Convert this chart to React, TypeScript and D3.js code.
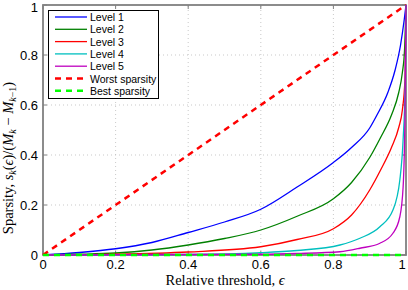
import React from "react";
import * as d3 from "d3";

const levelNames = ["Level 1", "Level 2", "Level 3", "Level 4", "Level 5"];
const levelColors = ["#0000ff", "#008000", "#ff0000", "#00bfbf", "#bf00bf"];

const level1: [number, number][] = [
  [0, 0], [0.1, 0.01], [0.2, 0.025], [0.3, 0.05], [0.4, 0.09], [0.5, 0.132], [0.6, 0.183],
  [0.7, 0.272], [0.8, 0.37], [0.85, 0.43], [0.9, 0.508], [0.92, 0.56], [0.95, 0.65],
  [0.97, 0.74], [0.985, 0.84], [0.995, 0.94], [1, 1],
];
const level2: [number, number][] = [
  [0, 0], [0.1, 0.003], [0.2, 0.008], [0.3, 0.02], [0.4, 0.04], [0.5, 0.066], [0.6, 0.1],
  [0.7, 0.155], [0.8, 0.225], [0.85, 0.29], [0.9, 0.39], [0.93, 0.47], [0.96, 0.56],
  [0.98, 0.65], [0.99, 0.73], [0.996, 0.82], [1, 1],
];
const level3: [number, number][] = [
  [0, 0], [0.2, 0.003], [0.4, 0.012], [0.6, 0.033], [0.7, 0.062], [0.8, 0.105],
  [0.85, 0.16], [0.9, 0.26], [0.93, 0.34], [0.96, 0.43], [0.98, 0.51], [0.99, 0.58],
  [0.997, 0.7], [1, 1],
];
const level4: [number, number][] = [
  [0, 0], [0.4, 0.002], [0.6, 0.009], [0.7, 0.018], [0.818, 0.04], [0.873, 0.067],
  [0.928, 0.113], [0.964, 0.18], [0.983, 0.3], [0.992, 0.46], [0.998, 0.7], [1, 1],
];
const level5: [number, number][] = [
  [0, 0], [0.6, 0.003], [0.7, 0.006], [0.818, 0.013], [0.873, 0.027], [0.928, 0.047],
  [0.964, 0.087], [0.983, 0.153], [0.992, 0.27], [0.997, 0.54], [1, 1],
];
const levels = [level1, level2, level3, level4, level5];

const worst: [number, number][] = [[0, 0], [1, 1]];
const best: [number, number][] = [[0, 0], [1, 0]];

const xTicks = [0, 0.2, 0.4, 0.6, 0.8, 1];
const yTicks = [0, 0.2, 0.4, 0.6, 0.8, 1];
const xTickLabels = ["0", "0.2", "0.4", "0.6", "0.8", "1"];
const yTickLabels = ["0", "0.2", "0.4", "0.6", "0.8", "1"];

export default function App() {
  const W = 408, H = 290;
  const x = d3.scaleLinear().domain([0, 1]).range([43, 406]);
  const y = d3.scaleLinear().domain([0, 1]).range([255, 5]);
  const line = d3.line<[number, number]>().x(d => x(d[0])).y(d => y(d[1])).curve(d3.curveMonotoneX);
  const straight = d3.line<[number, number]>().x(d => x(d[0])).y(d => y(d[1]));
  const axisColor = "#808080";
  const tickFont = "Liberation Sans, Arial, sans-serif";
  const serif = "Liberation Serif, Times New Roman, serif";

  const legendItems = [
    ...levelNames.map((n, i) => ({ name: n, color: levelColors[i], dash: undefined as string | undefined, w: 1.3 })),
    { name: "Worst sparsity", color: "#ff0000", dash: "6,5", w: 2.5 },
    { name: "Best sparsity", color: "#00ff00", dash: "6,5", w: 2.5 },
  ];

  return (
    <svg width={W} height={H} style={{ position: "absolute", left: 0, top: 0, background: "#fff" }}>
      <rect x={0} y={0} width={W} height={H} fill="#fff" />
      {/* grid */}
      {xTicks.slice(1, -1).map(t => (
        <line key={"gx" + t} x1={x(t)} x2={x(t)} y1={y(0)} y2={y(1)} stroke="#bbb" strokeWidth={0.8} strokeDasharray="1,3" />
      ))}
      {yTicks.slice(1, -1).map(t => (
        <line key={"gy" + t} x1={x(0)} x2={x(1)} y1={y(t)} y2={y(t)} stroke="#bbb" strokeWidth={0.8} strokeDasharray="1,3" />
      ))}
      {/* ticks */}
      {xTicks.map(t => (
        <g key={"tx" + t}>
          <line x1={x(t)} x2={x(t)} y1={y(0)} y2={y(0) - 4} stroke={axisColor} strokeWidth={1} />
          <line x1={x(t)} x2={x(t)} y1={y(1)} y2={y(1) + 4} stroke={axisColor} strokeWidth={1} />
        </g>
      ))}
      {yTicks.map(t => (
        <g key={"ty" + t}>
          <line x1={x(0)} x2={x(0) + 4} y1={y(t)} y2={y(t)} stroke={axisColor} strokeWidth={1} />
          <line x1={x(1)} x2={x(1) - 4} y1={y(t)} y2={y(t)} stroke={axisColor} strokeWidth={1} />
        </g>
      ))}
      {/* axes box */}
      <rect x={x(0)} y={y(1)} width={x(1) - x(0)} height={y(0) - y(1)} fill="none" stroke={axisColor} strokeWidth={1.8} />
      {/* worst */}
      <path d={straight(worst) || ""} fill="none" stroke="#ff0000" strokeWidth={2.5} strokeDasharray="6,5" />
      {/* levels */}
      {levels.map((data, i) => (
        <path key={"l" + i} d={line(data) || ""} fill="none" stroke={levelColors[i]} strokeWidth={1.3} />
      ))}
      {/* best */}
      <path d={straight(best) || ""} fill="none" stroke="#00ff00" strokeWidth={2.5} strokeDasharray="6,5" />
      {/* tick labels */}
      {xTicks.map((t, i) => (
        <text key={"xl" + t} x={Math.min(x(t), 402)} y={269} textAnchor="middle" fontFamily={tickFont} fontSize={13} fill="#000">
          {xTickLabels[i]}
        </text>
      ))}
      {yTicks.map((t, i) => (
        <text key={"yl" + t} x={38} y={Math.max(y(t) + 5, 12)} textAnchor="end" fontFamily={tickFont} fontSize={13} fill="#000">
          {yTickLabels[i]}
        </text>
      ))}
      {/* x label */}
      <text x={225} y={285} textAnchor="middle" fontFamily={serif} fontSize={14.5} fill="#000">
        Relative threshold, <tspan fontStyle="italic">ϵ</tspan>
      </text>
      {/* y label */}
      <text transform="translate(13,158) rotate(-90)" textAnchor="middle" fontFamily={serif} fontSize={14.5} fill="#000">
        Sparsity, <tspan fontStyle="italic">s</tspan>
        <tspan fontStyle="italic" fontSize={10} dy={3}>k</tspan>
        <tspan dy={-3}>(</tspan><tspan fontStyle="italic">ϵ</tspan>)/(<tspan fontStyle="italic">M</tspan>
        <tspan fontStyle="italic" fontSize={10} dy={3}>k</tspan>
        <tspan dy={-3}> − </tspan><tspan fontStyle="italic">M</tspan>
        <tspan fontStyle="italic" fontSize={10} dy={3}>k</tspan>
        <tspan fontSize={10}>−1</tspan>
        <tspan dy={-3}>)</tspan>
      </text>
      {/* legend */}
      <rect x={48.5} y={10.5} width={110} height={88} fill="#fff" stroke="#000" strokeWidth={1} />
      {legendItems.map((it, i) => {
        const ly = 17 + i * 12.3;
        return (
          <g key={"lg" + i}>
            <line x1={55} x2={87} y1={ly} y2={ly} stroke={it.color} strokeWidth={it.w} strokeDasharray={it.dash} />
            <text x={90} y={ly + 4} fontFamily={tickFont} fontSize={10.5} fill="#000">{it.name}</text>
          </g>
        );
      })}
    </svg>
  );
}
